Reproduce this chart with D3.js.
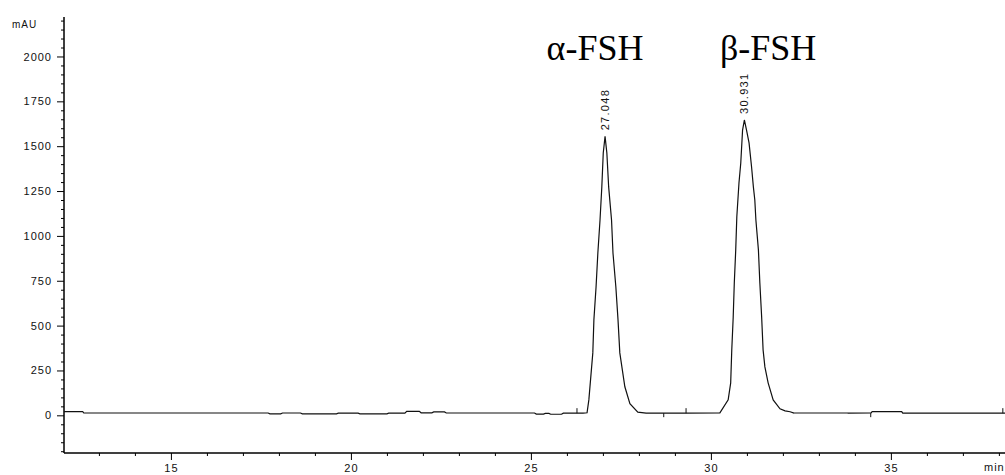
<!DOCTYPE html>
<html>
<head>
<meta charset="utf-8">
<script src="https://cdn.jsdelivr.net/npm/d3@7"></script>
<style>
  body { margin: 0; background: #fff; }
  svg { display: block; }
</style>
</head>
<body>
<div id="chart"></div>
<script>
(function () {
    'use strict';
    var w = 1005;
    var h = 475;

    // retention time (min) and signal (mAU)
    var rt = [12.03, 12.55, 12.58, 17.70, 17.75, 18.05, 18.10, 18.60, 18.65, 19.60,
        19.65, 20.20, 20.25, 21.00, 21.05, 21.50, 21.55, 21.90, 21.95, 22.25,
        22.30, 22.60, 22.65, 25.10, 25.15, 25.35, 25.40, 25.50, 25.55, 25.85,
        25.90, 26.45, 26.56, 26.61, 26.72, 26.75, 26.81, 26.86, 26.92, 26.97,
        27.01, 27.06, 27.11, 27.16, 27.24, 27.28, 27.36, 27.42, 27.47, 27.61,
        27.75, 27.97, 28.20, 29.30, 30.25, 30.48, 30.55, 30.58, 30.62, 30.65,
        30.69, 30.72, 30.78, 30.83, 30.88, 30.93, 30.99, 31.06, 31.13, 31.18,
        31.22, 31.25, 31.32, 31.36, 31.41, 31.45, 31.50, 31.59, 31.73, 31.92,
        32.06, 32.20, 32.31, 33.80, 34.45, 34.48, 35.30, 35.33, 38.17];
    var mAU = [21, 21, 13, 13, 8, 8, 13, 13, 8, 8,
        12, 12, 8, 8, 12, 12, 22, 22, 14, 14,
        19, 19, 13, 13, 7, 7, 11, 11, 6, 6,
        12, 12, 14, 86, 348, 532, 715, 905, 1089, 1273,
        1462, 1555, 1462, 1273, 1089, 905, 715, 532, 348, 159,
        65, 18, 12, 12, 14, 86, 181, 365, 548, 738,
        922, 1105, 1295, 1406, 1590, 1646, 1590, 1518, 1384, 1273,
        1200, 1089, 922, 738, 548, 365, 270, 181, 86, 36,
        25, 20, 12, 12, 14, 21, 21, 12, 12];

    // peak annotations
    var peakRT = [27.048, 30.931];
    var peakLabel = ["27.048", "30.931"];
    var peakTop = [1555, 1646];
    var peakName = ["\u03b1-FSH", "\u03b2-FSH"];
    var nameRT = [26.78, 31.59];

    // integration baseline segment and event marks
    var baseSeg = [32.31, 33.80];
    var baseLevel = 12;
    var eventRT = [26.28, 28.69, 29.31, 34.44, 38.11];
    var eventDir = [1, -1, 1, -1, 1];

    var yMajor = [0, 250, 500, 750, 1000, 1250, 1500, 1750, 2000];
    var xMajor = [15, 20, 25, 30, 35];

    var data = rt.map(function (t, i) { return {t: t, v: mAU[i]}; });

    var x = d3.scaleLinear().domain([12.03, 38.17]).range([64, 1005]);
    var y = d3.scaleLinear().domain([-210, 2220]).range([453, 17]);

    var svg = d3.select("#chart")
        .append("svg")
        .attr("width", w)
        .attr("height", h);

    var tickFont = "'Liberation Sans', Arial, sans-serif";

    // y axis
    var yMinor = d3.range(-200, 2201, 50).filter(function (d) { return d % 250 !== 0; });
    var yAxis = svg.append("g").attr("transform", "translate(64,0)");
    yAxis.call(d3.axisLeft(y).tickValues(yMinor).tickSize(3).tickFormat(""));
    yAxis.append("g").call(d3.axisLeft(y).tickValues(yMajor).tickSize(7).tickPadding(5)
        .tickFormat(d3.format("d")));
    yAxis.selectAll(".domain").attr("d", "M0," + y(-210) + "V" + y(2220)).attr("stroke", "#000");
    yAxis.selectAll("line").attr("stroke", "#000");
    yAxis.selectAll("text")
        .attr("font-family", tickFont)
        .attr("font-size", "11px")
        .attr("letter-spacing", "1px")
        .attr("fill", "#111");

    // x axis
    var xMinor = d3.range(13, 39, 1).filter(function (d) { return d % 5 !== 0; });
    var xAxis = svg.append("g").attr("transform", "translate(0,453)");
    xAxis.call(d3.axisBottom(x).tickValues(xMinor).tickSize(3).tickFormat(""));
    xAxis.append("g").call(d3.axisBottom(x).tickValues(xMajor).tickSize(7).tickPadding(4));
    xAxis.selectAll(".domain").attr("d", "M" + x(12.03) + ",0H" + x(38.17)).attr("stroke", "#000");
    xAxis.selectAll("line").attr("stroke", "#000");
    xAxis.selectAll("text")
        .attr("font-family", tickFont)
        .attr("font-size", "11px")
        .attr("letter-spacing", "1px")
        .attr("fill", "#111");

    // unit labels
    svg.append("text")
        .text("mAU")
        .attr("x", 12).attr("y", 28)
        .attr("font-family", tickFont).attr("font-size", "10px")
        .attr("letter-spacing", "1px").attr("fill", "#111");
    svg.append("text")
        .text("min")
        .attr("x", 984).attr("y", 471)
        .attr("font-family", tickFont).attr("font-size", "11px")
        .attr("letter-spacing", "1px").attr("fill", "#111");

    // trace
    var line = d3.line()
        .x(function (d) { return x(d.t); })
        .y(function (d) { return y(d.v); });

    svg.append("path")
        .datum(data)
        .attr("d", line)
        .attr("fill", "none")
        .attr("stroke", "#111")
        .attr("stroke-width", 1.2);

    // drawn baseline segment
    svg.append("line")
        .attr("x1", x(baseSeg[0])).attr("x2", x(baseSeg[1]))
        .attr("y1", y(baseLevel)).attr("y2", y(baseLevel))
        .attr("stroke", "#888")
        .attr("stroke-width", 1.6);

    // event marks
    svg.selectAll(".evt")
        .data(eventRT)
        .enter()
        .append("line")
        .attr("class", "evt")
        .attr("x1", function (d) { return x(d); })
        .attr("x2", function (d) { return x(d); })
        .attr("y1", y(baseLevel))
        .attr("y2", function (d, i) { return y(baseLevel) - (eventDir[i] > 0 ? 5 : -4); })
        .attr("stroke", "#111")
        .attr("stroke-width", 1);

    // retention time labels
    svg.selectAll(".rtlab")
        .data(peakRT)
        .enter()
        .append("text")
        .attr("class", "rtlab")
        .text(function (d, i) { return peakLabel[i]; })
        .attr("transform", function (d, i) {
            return "translate(" + (x(d) + 4) + "," + (y(peakTop[i]) - 6) + ") rotate(-90)";
        })
        .attr("font-family", tickFont)
        .attr("font-size", "11px")
        .attr("letter-spacing", "1.3px")
        .attr("fill", "#111");

    // peak names
    svg.selectAll(".pname")
        .data(nameRT)
        .enter()
        .append("text")
        .attr("class", "pname")
        .text(function (d, i) { return peakName[i]; })
        .attr("x", function (d) { return x(d); })
        .attr("y", 60)
        .attr("text-anchor", "middle")
        .attr("font-family", "'Liberation Serif', 'Times New Roman', serif")
        .attr("font-size", "36px")
        .attr("fill", "#000");
}());
</script>
</body>
</html>
